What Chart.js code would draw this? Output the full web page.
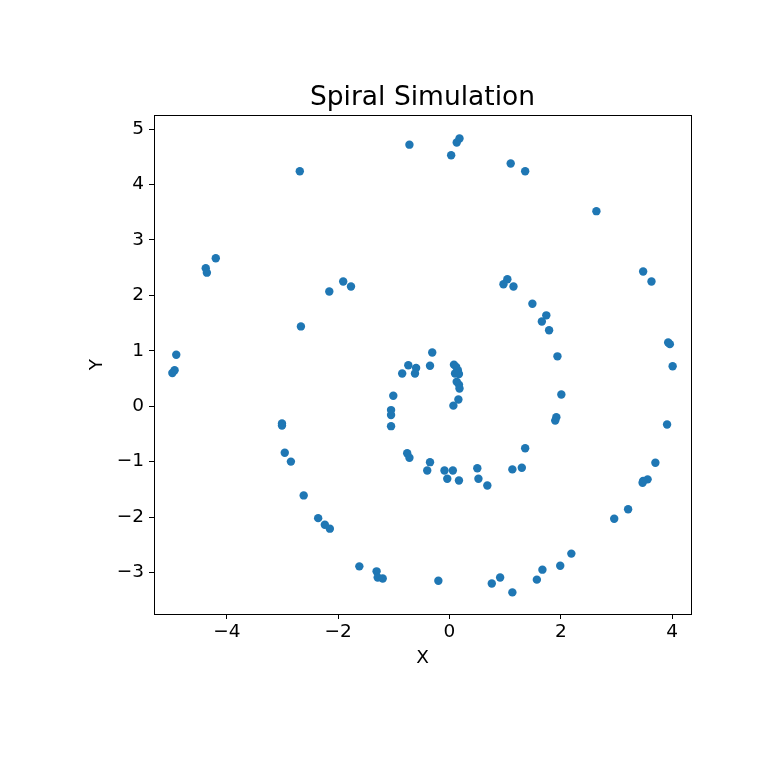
<!DOCTYPE html>
<html>
<head>
<meta charset="utf-8">
<script src="https://cdn.jsdelivr.net/npm/chart.js@4"></script>
<style>
  body { margin: 0; background: white; }
  canvas { display: block; }
</style>
</head>
<body>
<canvas id="chart" width="768" height="768"></canvas>
<script>
// values
var xValues = [
    -0.72, -2.69, -4.20, -4.38, -4.36, -2.16, -1.91, -1.77, -2.67, -4.91, -4.94, -4.98,
    0.18, 0.13, 0.03, 1.10, 1.36, 2.64, 3.48, 3.63, 1.04, 0.97, 1.15, 1.49, 1.74, 1.66,
    1.79, 3.93, 3.96, 1.94, 4.01, -0.31, -0.35,
    -0.74, -0.60, -0.85, -0.62, 0.08, 0.12, 0.15, 0.10, 0.17, 0.13, 0.17, 0.18, 0.16, 0.07,
    -1.01, -1.05, -1.05, -1.05, -0.76, -0.72, -0.35, -0.40, -0.09, 0.06, -0.04, 0.17,
    0.50, 0.52, 0.68, 1.13, 1.30, 1.36, 2.01, 1.92, 1.90,
    3.91, 3.70, 3.56, 3.48, 3.47, 3.21, 2.96, 2.19, 1.99, 1.67, 1.57, 1.13, 0.91, 0.76, -0.20,
    -3.01, -3.01, -2.96, -2.85, -2.62, -2.36, -2.24, -2.15, -1.62, -1.31, -1.29, -1.20
];
var yValues = [
    4.72, 4.24, 2.67, 2.49, 2.41, 2.07, 2.25, 2.16, 1.44, 0.93, 0.65, 0.60,
    4.83, 4.76, 4.53, 4.38, 4.24, 3.52, 2.43, 2.25, 2.29, 2.20, 2.16, 1.85, 1.64, 1.53,
    1.37, 1.15, 1.12, 0.90, 0.72, 0.97, 0.73,
    0.74, 0.69, 0.59, 0.59, 0.75, 0.71, 0.65, 0.59, 0.58, 0.44, 0.39, 0.32, 0.12, 0.01,
    0.19, -0.07, -0.16, -0.36, -0.85, -0.93, -1.01, -1.16, -1.16, -1.16, -1.31, -1.34,
    -1.12, -1.31, -1.43, -1.14, -1.11, -0.76, 0.21, -0.20, -0.26,
    -0.33, -1.02, -1.32, -1.35, -1.38, -1.86, -2.03, -2.66, -2.88, -2.95, -3.13, -3.36, -3.09, -3.20, -3.15,
    -0.31, -0.35, -0.84, -1.00, -1.61, -2.02, -2.14, -2.21, -2.89, -2.98, -3.09, -3.11
];
var xTicks = [-4, -2, 0, 2, 4];
var yTicks = [-3, -2, -1, 0, 1, 2, 3, 4, 5];

var points = xValues.map(function(x, i) { return {x: x, y: yValues[i]}; });

function minusSign(v) {
    return String(v).replace('-', '\u2212');
}

// box around the plot area, like the four spines
var frame = {
    id: 'frame',
    afterDraw: function(chart) {
        var a = chart.chartArea;
        var ctx = chart.ctx;
        ctx.save();
        ctx.strokeStyle = 'black';
        ctx.lineWidth = 1;
        ctx.strokeRect(Math.round(a.left) + 0.5, Math.round(a.top) + 0.5,
            Math.round(a.right - a.left), Math.round(a.bottom - a.top));
        ctx.restore();
    }
};

var tickFont = { family: 'DejaVu Sans', size: 18.5 };

var ctx = document.getElementById('chart').getContext('2d');
var chart = new Chart(ctx, {
    type: 'scatter',
    data: {
        datasets: [{
            data: points,
            backgroundColor: '#1f77b4',
            borderColor: '#1f77b4',
            borderWidth: 0,
            pointRadius: 4.2
        }]
    },
    plugins: [frame],
    options: {
        responsive: false,
        animation: false,
        layout: { padding: { left: 0, right: 77, top: 0, bottom: 0 } },
        plugins: {
            legend: { display: false },
            tooltip: { enabled: false },
            title: {
                display: true,
                fullSize: false,
                text: 'Spiral Simulation',
                color: 'black',
                font: { family: 'DejaVu Sans', size: 26.5, weight: 'normal' },
                padding: { top: 82.5, bottom: 1 }
            }
        },
        scales: {
            x: {
                type: 'linear',
                min: -5.31,
                max: 4.34,
                afterFit: function(scale) { scale.height = 154; },
                afterBuildTicks: function(scale) {
                    scale.ticks = xTicks.map(function(v) { return {value: v}; });
                },
                ticks: {
                    color: 'black',
                    font: tickFont,
                    padding: 2,
                    maxRotation: 0,
                    callback: function(v) { return minusSign(v); }
                },
                grid: { drawOnChartArea: false, drawTicks: true, tickLength: 5, color: 'black' },
                border: { display: true, color: 'black' },
                title: {
                    display: true,
                    text: 'X',
                    color: 'black',
                    font: tickFont,
                    padding: { top: 0, bottom: 99 }
                }
            },
            y: {
                type: 'linear',
                min: -3.75,
                max: 5.25,
                afterFit: function(scale) { scale.width = 154; },
                afterBuildTicks: function(scale) {
                    scale.ticks = yTicks.map(function(v) { return {value: v}; });
                },
                ticks: {
                    color: 'black',
                    font: tickFont,
                    padding: 5,
                    callback: function(v) { return minusSign(v); }
                },
                grid: { drawOnChartArea: false, drawTicks: true, tickLength: 5, color: 'black' },
                border: { display: true, color: 'black' },
                title: {
                    display: true,
                    text: 'Y',
                    color: 'black',
                    font: tickFont,
                    padding: { top: 86.5, bottom: 0 }
                }
            }
        }
    }
});
</script>
</body>
</html>
